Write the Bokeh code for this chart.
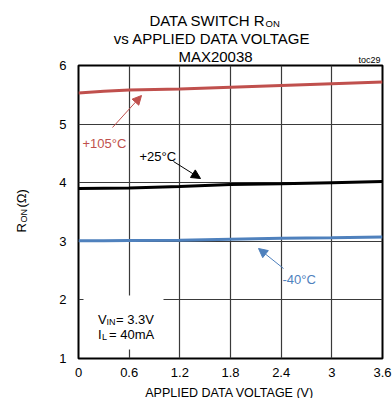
import math
from bokeh.plotting import figure
from bokeh.models import (FixedTicker, Label, Arrow, NormalHead, BoxAnnotation,
                          ColumnDataSource)
from bokeh.embed import file_html
from bokeh.resources import INLINE

# ---- data ----
voltage = [0.0, 0.3, 0.6, 1.2, 1.8, 2.4, 3.0, 3.6]
ron_105 = [5.53, 5.56, 5.58, 5.60, 5.63, 5.66, 5.69, 5.72]
ron_25 = [3.90, 3.905, 3.91, 3.935, 3.97, 3.98, 4.00, 4.02]
ron_m40 = [3.01, 3.01, 3.015, 3.02, 3.035, 3.05, 3.06, 3.075]
x_ticks = [0, 0.6, 1.2, 1.8, 2.4, 3.0, 3.6]
x_tick_labels = ["0", "0.6", "1.2", "1.8", "2.4", "3", "3.6"]
y_ticks = [1, 2, 3, 4, 5, 6]

RED = "#c0504d"
BLUE = "#4f81bd"
BLACK = "#000000"
FONT = "Liberation Sans"

W, H = 392, 398
FL, FR, FT, FB = 78, 382, 65, 358  # frame edges in picture px

p = figure(width=W, height=H, output_backend="svg", toolbar_location=None,
           x_range=(0, 3.6), y_range=(1, 6),
           min_border_left=FL, min_border_right=W - FR,
           min_border_top=FT, min_border_bottom=H - FB)
p.background_fill_color = "white"
p.border_fill_color = "white"
p.outline_line_color = "black"
p.outline_line_width = 2

# axes
for ax in (p.xaxis[0], p.yaxis[0]):
    ax.axis_line_color = None
    ax.major_tick_line_color = None
    ax.minor_tick_line_color = None
    ax.major_tick_out = 0
    ax.major_tick_in = 0
    ax.minor_tick_out = 0
    ax.minor_tick_in = 0
    ax.major_label_text_font = FONT
    ax.major_label_text_font_size = "13px"
    ax.major_label_text_color = "black"
p.xaxis.ticker = FixedTicker(ticks=x_ticks)
p.xaxis.major_label_overrides = {t: l for t, l in zip(x_ticks, x_tick_labels)}
p.yaxis.ticker = FixedTicker(ticks=y_ticks)
p.xaxis.major_label_standoff = 9
p.yaxis.major_label_standoff = 12

p.xgrid.ticker = FixedTicker(ticks=x_ticks)
p.ygrid.ticker = FixedTicker(ticks=y_ticks)
for g in (p.xgrid[0], p.ygrid[0]):
    g.grid_line_color = "#3a3a3a"
    g.grid_line_width = 1.2


# picture pixel -> data coordinate helpers
def dx(px):
    return (px - FL) / (FR - FL) * 3.6


def dy(py):
    return 6 - (py - FT) / (FB - FT) * 5


# white box behind the conditions text
p.add_layout(BoxAnnotation(left=dx(83), right=dx(163), top=dy(295), bottom=dy(349),
                           fill_color="white", fill_alpha=1, line_color=None,
                           level="underlay"))

# curves
src = ColumnDataSource(dict(v=voltage, r105=ron_105, r25=ron_25, rm40=ron_m40))
p.line("v", "r105", source=src, line_color=RED, line_width=3)
p.line("v", "r25", source=src, line_color=BLACK, line_width=3)
p.line("v", "rm40", source=src, line_color=BLUE, line_width=3)


def lab(text, x, y, size, color="black", align="left"):
    p.add_layout(Label(x=dx(x), y=dy(y), text=text, text_font=FONT,
                       text_font_size=f"{size}px", text_color=color,
                       text_align=align, text_baseline="alphabetic"))


def clab(panel, text, x, y, size, align="left", angle=0.0):
    p.add_layout(Label(x=x, y=y, x_units="canvas", y_units="canvas", text=text,
                       text_font=FONT, text_font_size=f"{size}px", text_color="black",
                       text_align=align, text_baseline="alphabetic",
                       angle=angle), panel)


# curve labels + arrows
lab("+105°C", 82, 143, 13, RED)
lab("+25°C", 139, 156, 13, BLACK)
lab("-40°C", 282, 279, 13, BLUE)
for (x0, y0, x1, y1, c) in [(112, 127, 141, 95, RED),
                            (173, 161, 200, 178, BLACK),
                            (283, 268, 258, 248, BLUE)]:
    p.add_layout(Arrow(x_start=dx(x0), y_start=dy(y0), x_end=dx(x1), y_end=dy(y1),
                       line_color=c, line_width=1,
                       end=NormalHead(size=9, fill_color=c, line_color=c)))

# conditions
lab("V", 97.5, 318.5, 13)
lab("IN", 106, 321, 9)
lab("= 3.3V", 115.5, 318.5, 13)
lab("I", 97.5, 333.5, 13)
lab("L", 101.5, 336, 9)
lab("= 40mA", 108.5, 333.5, 13)

# title (side panels, canvas px)
clab("above", "DATA SWITCH R", 265, 20, 15, align="right")
clab("left", "ON", 265, 23, 9.5)
clab("above", "vs APPLIED DATA VOLTAGE", 212, 38, 15, align="center")
clab("above", "MAX20038", 215, 56, 15, align="center")
clab("above", "toc29", 380, 59, 9, align="right")

# axis titles
clab("below", "APPLIED DATA VOLTAGE (V)", 229, 392, 12.5, align="center")
clab("left", "R", 21, 232, 13, angle=math.pi / 2)
clab("left", "ON", 23.5, 222, 9, angle=math.pi / 2)
clab("left", "(Ω)", 21, 207, 13, angle=math.pi / 2)

open("out.html", "w").write(file_html(p, INLINE))
